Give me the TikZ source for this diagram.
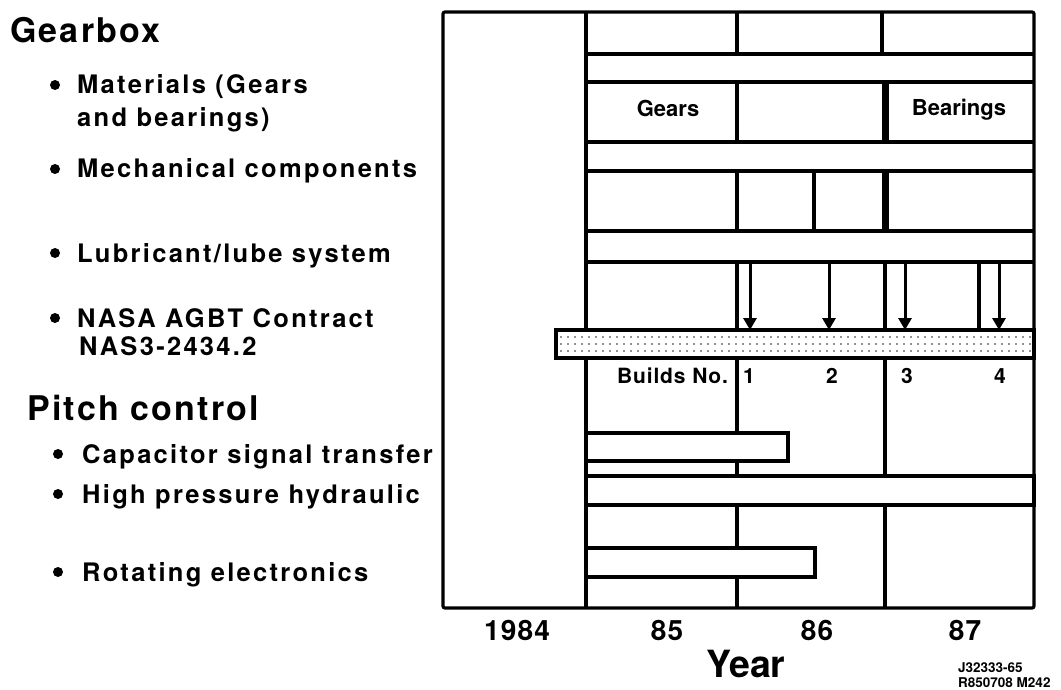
\documentclass[tikz,border=0pt]{standalone}
\usepackage{fontspec}
\usetikzlibrary{arrows.meta}
\setmainfont{TeX Gyre Heros}
\newfontfamily\trkfont[LetterSpace=9]{TeX Gyre Heros}
\newfontfamily\headfont[LetterSpace=6.5]{TeX Gyre Heros}
\newfontfamily\lblfont[LetterSpace=4]{TeX Gyre Heros}
\tikzset{
  ln/.style={line width=3.2pt},
  thk/.style={line width=7pt},
  bar/.style={line width=3.2pt, fill=white},
  head/.style={inner sep=0pt, anchor=base west, font=\headfont\bfseries\fontsize{34}{40}\selectfont},
  item/.style={inner sep=0pt, anchor=base west, font=\trkfont\bfseries\fontsize{25.5}{30}\selectfont},
  bul/.style={fill=black},
  cell/.style={inner sep=0pt, anchor=base, font=\bfseries\fontsize{22}{26}\selectfont},
  bno/.style={inner sep=0pt, anchor=base, font=\lblfont\bfseries\fontsize{21}{25}\selectfont},
  yr/.style={inner sep=0pt, anchor=base, font=\lblfont\bfseries\fontsize{28}{32}\selectfont},
  small/.style={inner sep=0pt, anchor=base west, font=\bfseries\fontsize{13.5}{16}\selectfont},
  arr/.style={line width=3pt, -{Triangle[length=12pt,width=13pt]}},
}
\begin{document}
\begin{tikzpicture}[x=1pt,y=-1pt]
\useasboundingbox (0,0) rectangle (1061,690);

% ---------- left texts ----------
\node[head] (gearbox) at (10,43) {Gearbox};
\fill[bul] (55,85) circle (5);
\node[item] (mat1) at (77,94) {Materials (Gears};
\node[item] (mat2) at (77,127) {and bearings)};
\fill[bul] (55,169) circle (5);
\node[item] (mech) at (77,178) {Mechanical components};
\fill[bul] (55,253) circle (5);
\node[item] (lub) at (77,262) {Lubricant/lube system};
\fill[bul] (55,318) circle (5);
\node[item] (nasa1) at (77,327) {NASA AGBT Contract};
\node[item] (nasa2) at (79,355) {NAS3-2434.2};
\node[head] (pitch) at (27,420) {Pitch control};
\fill[bul] (58,454) circle (5);
\node[item] (cap) at (82,463) {Capacitor signal transfer};
\fill[bul] (58,494) circle (5);
\node[item] (hp) at (82,503) {High pressure hydraulic};
\fill[bul] (58,572) circle (5);
\node[item] (rot) at (82,581) {Rotating electronics};

% ---------- chart grid ----------
\draw[ln, rounded corners=2pt] (443,12) rectangle (1034,608);
\draw[ln] (586,12) -- (586,608);
\foreach \yy in {54,82,142,171,231,262} \draw[ln] (586,\yy) -- (1034,\yy);
% row 1
\draw[ln] (737,12) -- (737,54);
\draw[ln] (882,12) -- (882,54);
% gears row
\draw[ln] (737,82) -- (737,142);
\draw[thk] (885,82) -- (885,142);
% mechanical row
\draw[ln] (737,171) -- (737,231);
\draw[ln] (814,171) -- (814,231);
\draw[thk] (885,171) -- (885,231);
% arrow row dividers
\draw[ln] (737,262) -- (737,330);
\draw[ln] (885,262) -- (885,330);
\draw[ln] (979,262) -- (979,330);
% lower dividers
\draw[ln] (737,358) -- (737,608);
\draw[ln] (885,358) -- (885,608);

% ---------- builds bar ----------
\draw[bar] (556,330) rectangle (1034,358);
\foreach \xx in {561,568,...,1030} \foreach \yy in {337,344,351} \fill[black!85] (\xx,\yy) circle (0.95);
\coordinate (t1) at (750,262); \coordinate (h1) at (750,330);
\coordinate (t2) at (829,262); \coordinate (h2) at (829,330);
\coordinate (t3) at (905,262); \coordinate (h3) at (905,330);
\coordinate (t4) at (999,262); \coordinate (h4) at (999,330);
\draw[arr] (t1) -- (h1);
\draw[arr] (t2) -- (h2);
\draw[arr] (t3) -- (h3);
\draw[arr] (t4) -- (h4);

% ---------- pitch bars ----------
\draw[bar] (586,433) rectangle (788,461);
\draw[bar] (586,476) rectangle (1034,505);
\draw[bar] (586,548) rectangle (815,577);

% ---------- chart labels ----------
\node[cell] (gears) at (668,117) {Gears};
\node[cell] (bearings) at (959,116) {Bearings};
\node[bno, anchor=base west] (builds) at (617,383) {Builds No.};
\node[bno] (b1) at (749,383) {1};
\node[bno] (b2) at (832,383) {2};
\node[bno] (b3) at (907,383) {3};
\node[bno] (b4) at (1000,383) {4};

\node[yr] (y84) at (517,640) {1984};
\node[yr] (y85) at (667,640) {85};
\node[yr] (y86) at (817,640) {86};
\node[yr] (y87) at (965,640) {87};
\node[inner sep=0pt, anchor=base, font=\bfseries\fontsize{37.5}{42}\selectfont] (year) at (746,677) {Year};
\node[small] (ref1) at (958,672) {J32333-65};
\node[small] (ref2) at (958,687) {R850708 M242};
\end{tikzpicture}
\end{document}
